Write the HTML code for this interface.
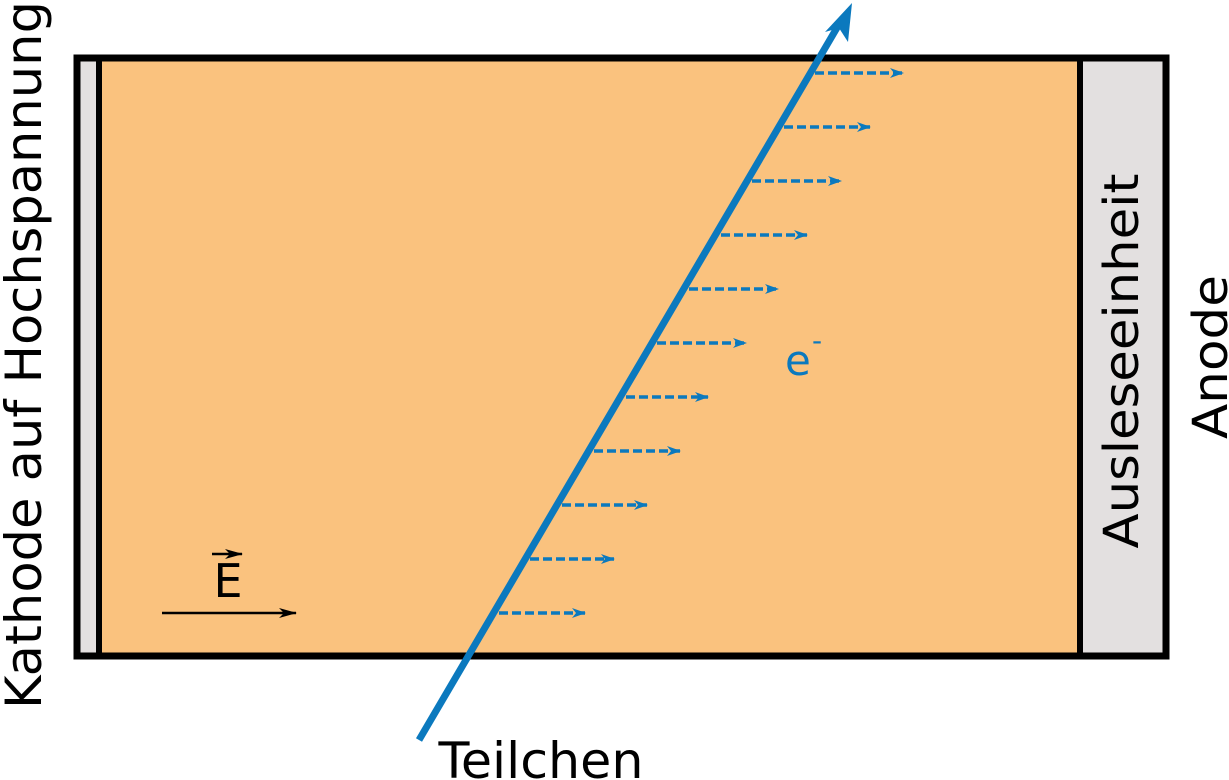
<!DOCTYPE html>
<html><head><style>html,body{margin:0;padding:0;background:#fff}svg{display:block}</style></head>
<body>
<svg width="1229" height="780" viewBox="0 0 1229 780" xmlns="http://www.w3.org/2000/svg" font-family="'DejaVu Sans','Liberation Sans',sans-serif">
<defs>
<marker id="bh" markerWidth="14" markerHeight="10" refX="13" refY="5" orient="auto" markerUnits="userSpaceOnUse">
<path d="M0,0 L14,5 L0,10 L4,5 Z" fill="#0b79be"/></marker>
<marker id="kh" markerWidth="18" markerHeight="10" refX="17" refY="5" orient="auto" markerUnits="userSpaceOnUse">
<path d="M0,0 L18,5 L0,10 L5,5 Z" fill="#000"/></marker>
</defs>
<rect x="78" y="59" width="1087" height="597" fill="#fac27e"/>
<rect x="78" y="59" width="21" height="597" fill="#e3e0e0"/>
<rect x="1081" y="59" width="84" height="597" fill="#e3e0e0"/>
<rect x="77" y="58" width="1089" height="598" fill="none" stroke="#000" stroke-width="7"/>
<line x1="99" y1="58" x2="99" y2="656" stroke="#000" stroke-width="6"/>
<line x1="1080" y1="58" x2="1080" y2="656" stroke="#000" stroke-width="6"/>
<g stroke="#0b79be" stroke-width="3.5" stroke-dasharray="9,4" fill="none" marker-end="url(#bh)">
<line x1="815" y1="73" x2="903" y2="73"/>
<line x1="784" y1="127" x2="870" y2="127"/>
<line x1="752" y1="181" x2="841" y2="181"/>
<line x1="721" y1="235" x2="807" y2="235"/>
<line x1="689" y1="289" x2="778" y2="289"/>
<line x1="657" y1="343" x2="746" y2="343"/>
<line x1="626" y1="397" x2="708" y2="397"/>
<line x1="594" y1="451" x2="680" y2="451"/>
<line x1="562" y1="505" x2="647" y2="505"/>
<line x1="530" y1="559" x2="614" y2="559"/>
<line x1="499" y1="613" x2="585" y2="613"/>
</g>
<line x1="419" y1="740" x2="838" y2="26" stroke="#0b79be" stroke-width="7"/>
<path d="M852,3 L848,42 L839,28 L825,32 Z" fill="#0b79be"/>
<line x1="162" y1="613" x2="296" y2="613" stroke="#000" stroke-width="2.5" marker-end="url(#kh)"/>
<text x="228" y="597" font-size="46" text-anchor="middle" fill="#000">E</text>
<line x1="212" y1="554" x2="242" y2="554" stroke="#000" stroke-width="2.5" marker-end="url(#kh)"/>
<text x="785" y="375" font-size="42" fill="#0b79be">e</text>
<text x="812" y="350" font-size="28" fill="#0b79be">-</text>
<text x="541" y="778" font-size="50" text-anchor="middle" textLength="205" lengthAdjust="spacingAndGlyphs" fill="#000">Teilchen</text>
<text transform="translate(41,355) rotate(-90)" font-size="50" text-anchor="middle" textLength="708" lengthAdjust="spacingAndGlyphs" fill="#000">Kathode auf Hochspannung</text>
<text transform="translate(1138,361) rotate(-90)" font-size="48" text-anchor="middle" textLength="375" lengthAdjust="spacingAndGlyphs" fill="#000">Ausleseeinheit</text>
<text transform="translate(1227,357) rotate(-90)" font-size="48" text-anchor="middle" textLength="164" lengthAdjust="spacingAndGlyphs" fill="#000">Anode</text>
</svg>
</body></html>
